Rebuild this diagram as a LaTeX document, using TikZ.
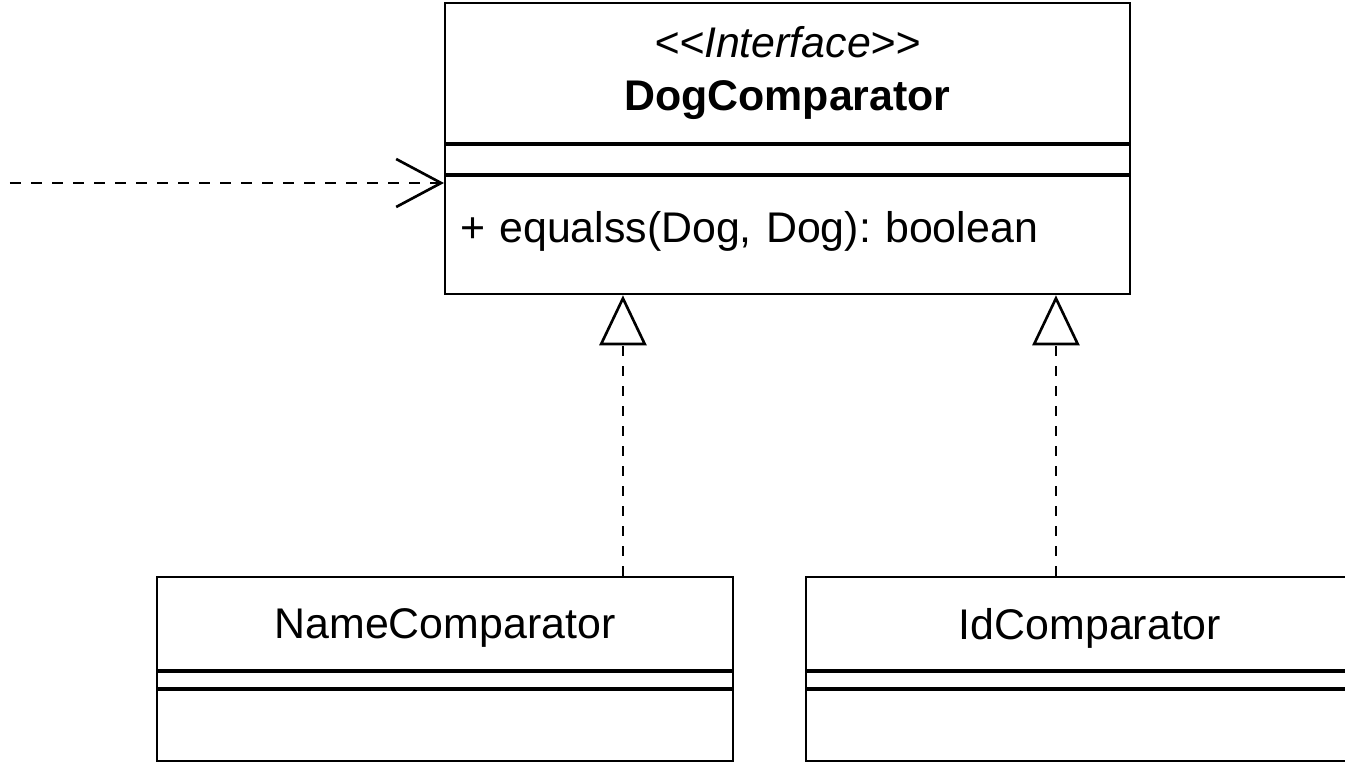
\documentclass[tikz,border=0pt]{standalone}
\usepackage{fontspec}
\setmainfont{Liberation Sans}
\usetikzlibrary{arrows.meta,positioning,calc}
\frenchspacing

\begin{document}
\begin{tikzpicture}[
    every node/.style={font=\fontsize{24.4}{29}\selectfont},
    box/.style={draw, rectangle, line width=1.2pt, inner sep=0pt},
    depend/.style={line width=1.5pt, dash pattern=on 0.22cm off 0.2cm,
        -{Straight Barb[length=0.9cm,width=0.96cm]}},
    realize/.style={line width=1.5pt, dash pattern=on 0.2cm off 0.2cm,
        -{Triangle[open,fill=white,length=1cm,width=0.94cm]}}
  ]
    \useasboundingbox (0,0) rectangle (26.9,-15.28);
    % Interface
    \node[box, minimum width=13.7cm, minimum height=2.8cm, align=center] (ifacehead) at (15.75,-1.46)
        {\textit{{<}{<}Interface{>}{>}}\\[1pt]\textbf{DogComparator}};
    \node[box, minimum width=13.7cm, minimum height=0.58cm, below=0pt of ifacehead] (ifaceattr) {};
    \node[box, minimum height=2.36cm, text width=13.1cm, inner xsep=0.3cm, align=left,
        below=0pt of ifaceattr] (ifaceops) {\raisebox{-0.14cm}[0pt][0pt]{+ equalss(Dog, Dog): boolean}};
    % Implementing classes
    \node[box, minimum width=11.52cm, minimum height=1.86cm, text depth=0pt] (namehead) at (8.9,-12.47) {NameComparator};
    \node[box, minimum width=11.52cm, minimum height=0.32cm, below=0pt of namehead] (nameattr) {};
    \node[box, minimum width=11.52cm, minimum height=1.42cm, below=0pt of nameattr] (nameops) {};
    \node[box, minimum width=11.36cm, minimum height=1.86cm, text depth=0pt] (idhead) at (21.8,-12.47) {IdComparator};
    \node[box, minimum width=11.36cm, minimum height=0.32cm, below=0pt of idhead] (idattr) {};
    \node[box, minimum width=11.36cm, minimum height=1.42cm, below=0pt of idattr] (idops) {};
    % Dependency
    \coordinate (client) at (0.2,-3.66);
    \draw[depend] (client) -- (client -| ifaceops.west);
    % Realizations
    \coordinate (namelink) at ($(namehead.north west)+(9.34,0)$);
    \coordinate (idlink) at ($(idhead.north west)+(5.02,0)$);
    \draw[realize] (namelink) -- (namelink |- ifaceops.south);
    \draw[realize] (idlink) -- (idlink |- ifaceops.south);
  \end{tikzpicture}
\end{document}
